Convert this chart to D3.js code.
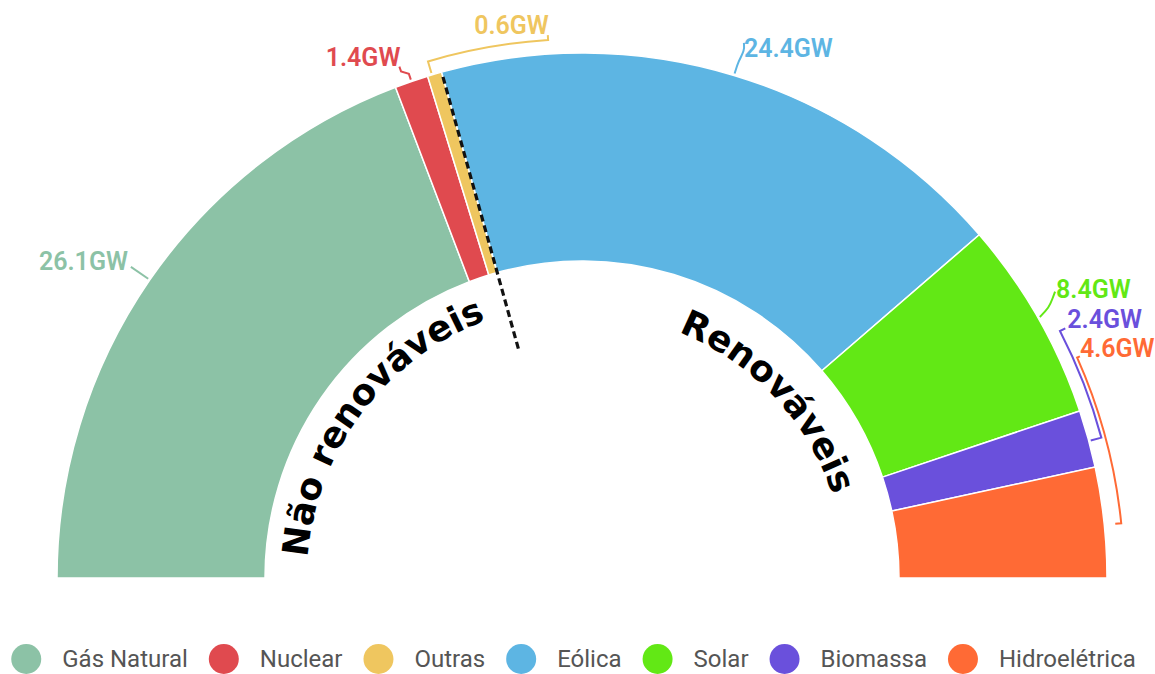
<!DOCTYPE html>
<html>
<head>
<meta charset="utf-8">
<script src="https://cdn.jsdelivr.net/npm/d3@7"></script>
<style>
    body { margin: 0; background: #fff; }
    text { font-family: Roboto, "Noto Sans", sans-serif; }
</style>
</head>
<body>
<div id="chart"></div>
<script>
// data
const categories = ["Gás Natural", "Nuclear", "Outras", "Eólica", "Solar", "Biomassa", "Hidroelétrica"];
const values = [26.1, 1.4, 0.6, 24.4, 8.4, 2.4, 4.6];
const unit = "GW";
const groupLabels = ["Não renováveis", "Renováveis"];
const groupSplit = 3; // first 3 categories are non renewable

const colors = ["#8cc2a6", "#e04a4f", "#efc65f", "#5db5e3", "#62e815", "#6a50dc", "#ff6a35"];

/*********************** layout *********************/
const width = 1155, height = 674;
const cx = 582, cy = 578;
const outerR = 525, innerR = 317;

// leader placement per slice: polar points [angle offset (deg) from slice middle, radius]
const leaders = [
    { type: "line",    pts: [[0, 527], [0, 548]],                              anchor: "end",   dx: -3, dy: 3 },
    { type: "line",    pts: [[0, 527], [0, 533], [-0.7, 538], [-0.7, 543]],    anchor: "end",   dx: 1,  dy: -1 },
    { type: "bracket", a0: -0.3, a1: 12.7, r: 539, rIn: 527, rOut: 544,        anchor: "end",   dx: 1,  dy: -1 },
    { type: "curve",   pts: [[0, 527], [0, 540], [0.3, 552], [0, 559]],        anchor: "start", dx: 0,  dy: 14 },
    { type: "curve",   pts: [[0, 527], [-0.4, 540], [-1.0, 547], [-1.5, 553]], anchor: "start", dx: 1,  dy: 6 },
    { type: "bracket", a0: 0.25, a1: -11.95, r: 538, rIn: 527, rOut: 544,      anchor: "start", dx: 2,  dy: 0 },
    { type: "bracket", a0: 0.3, a1: -17.9, r: 542, rIn: 536, rOut: 545,        anchor: "start", dx: 0,  dy: 1 }
];

// group label placement: baseline radius and angle shift (deg) from group middle
const groupText = [
    { r: 275, shift: -0.3 },
    { r: 264, shift: 9.3 }
];

const rad = d => d * Math.PI / 180;
const polar = (a, r) => [cx + r * Math.sin(a), cy - r * Math.cos(a)];

var svg = d3.select("#chart").append("svg")
    .attr("width", width)
    .attr("height", height);

var pie = d3.pie()
    .sort(null)
    .startAngle(-Math.PI / 2)
    .endAngle(Math.PI / 2);

var arcs = pie(values);

var arc = d3.arc()
    .innerRadius(innerR)
    .outerRadius(outerR);

var g = svg.append("g")
    .attr("transform", "translate(" + cx + "," + cy + ")");

g.selectAll("path.slice")
    .data(arcs)
    .enter().append("path")
    .attr("class", "slice")
    .attr("d", arc)
    .attr("fill", (d, i) => colors[i])
    .attr("stroke", "#fff")
    .attr("stroke-width", 1.5);

// dashed divider between non renewable and renewable
var splitAngle = arcs[groupSplit].startAngle;
var p0 = polar(splitAngle, 238), p1 = polar(splitAngle, outerR - 2);
svg.append("line")
    .attr("x1", p0[0]).attr("y1", p0[1])
    .attr("x2", p1[0]).attr("y2", p1[1])
    .attr("stroke", "#111")
    .attr("stroke-width", 3.2)
    .attr("stroke-dasharray", "7,4");

/*********************** value labels *********************/
arcs.forEach(function (d, i) {
    var L = leaders[i];
    var mid = (d.startAngle + d.endAngle) / 2;
    var col = colors[i];
    var pathD, end;

    if (L.type === "bracket") {
        var a0 = mid + rad(L.a0), a1 = mid + rad(L.a1);
        var p = d3.path();
        var s = polar(a0, L.rIn);
        p.moveTo(s[0], s[1]);
        var s2 = polar(a0, L.r);
        p.lineTo(s2[0], s2[1]);
        p.arc(cx, cy, L.r, a0 - Math.PI / 2, a1 - Math.PI / 2, a1 < a0);
        end = polar(a1, L.rOut);
        p.lineTo(end[0], end[1]);
        pathD = p.toString();
    } else {
        var pts = L.pts.map(q => polar(mid + rad(q[0]), q[1]));
        var line = d3.line().curve(L.type === "curve" ? d3.curveBasis : d3.curveLinear);
        pathD = line(pts);
        end = pts[pts.length - 1];
    }

    svg.append("path")
        .attr("d", pathD)
        .attr("fill", "none")
        .attr("stroke", col)
        .attr("stroke-width", 2);

    svg.append("text")
        .attr("x", end[0] + L.dx)
        .attr("y", end[1] + L.dy)
        .attr("text-anchor", L.anchor)
        .attr("fill", col)
        .style("font-size", "25px")
        .style("font-weight", 600)
        .text(values[i] + unit);
});

/*********************** curved group labels *********************/
var defs = svg.append("defs");
var spanA = rad(150); // text arc runs from -150deg to +150deg so nothing is clipped

var groupMid = [
    (arcs[0].startAngle + arcs[groupSplit - 1].endAngle) / 2,
    (arcs[groupSplit].startAngle + arcs[arcs.length - 1].endAngle) / 2
];

groupLabels.forEach(function (lbl, i) {
    var R = groupText[i].r;
    var tp = d3.path();
    var st = polar(-spanA, R);
    tp.moveTo(st[0], st[1]);
    tp.arc(cx, cy, R, -spanA - Math.PI / 2, spanA - Math.PI / 2, false);
    defs.append("path")
        .attr("id", "textArc" + i)
        .attr("d", tp.toString());

    var a = groupMid[i] + rad(groupText[i].shift);
    var frac = (a + spanA) / (2 * spanA);
    svg.append("text")
        .style("font-family", "'DejaVu Sans', Verdana, sans-serif")
        .style("font-weight", "bold")
        .style("font-size", "36px")
        .attr("fill", "#000")
        .append("textPath")
        .attr("href", "#textArc" + i)
        .attr("startOffset", (frac * 100) + "%")
        .attr("text-anchor", "middle")
        .text(lbl);
});

/*********************** legend *********************/
var legend = svg.append("g").attr("class", "legend");
var lx = 0;
categories.forEach(function (c, i) {
    var item = legend.append("g").attr("transform", "translate(" + lx + ",0)");
    item.append("circle")
        .attr("cx", 15).attr("cy", 0).attr("r", 15)
        .attr("fill", colors[i]);
    var t = item.append("text")
        .attr("x", 51).attr("y", 0).attr("dy", "0.35em")
        .attr("fill", "#555")
        .style("font-size", "24px")
        .text(c);
    lx += 51 + t.node().getComputedTextLength() + 21;
});
var legendW = lx - 21;
legend.attr("transform", "translate(" + ((width - legendW) / 2 - 4) + ",659)");
</script>
</body>
</html>
